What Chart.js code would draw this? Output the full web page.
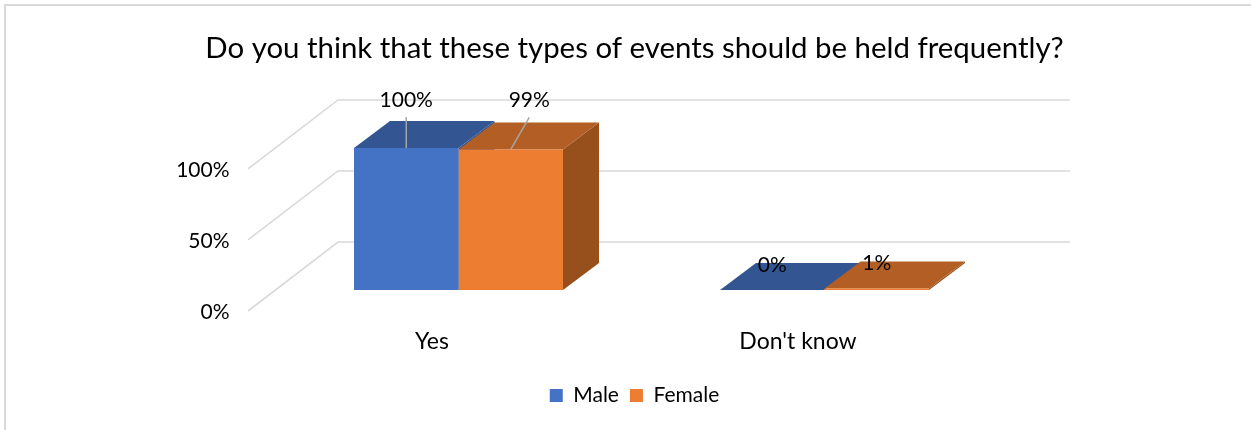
<!DOCTYPE html>
<html>
<head>
<meta charset="utf-8">
<style>
  html, body { margin: 0; padding: 0; background: #fff; }
  #frame { position: absolute; left: 4px; top: 4px; width: 1247px; height: 426px;
           border-left: 2px solid #d9d9d9; border-top: 2px solid #d9d9d9; box-sizing: border-box; }
  canvas { position: absolute; left: 0; top: 0; }
</style>
<script src="https://cdn.jsdelivr.net/npm/chart.js@4"></script>
</head>
<body>
<div id="frame"></div>
<canvas id="chart" width="1251" height="430"></canvas>
<script>
const titleText = "Do you think that these types of events should be held frequently?";
const categories = ["Yes", "Don't know"];
const maleValues = [100, 0];
const femaleValues = [99, 1];
const yTicks = [0, 50, 100];

const FONT = "Lato, 'Open Sans', sans-serif";
const INK = "#000000";
const WALL = "#d9d9d9";

// Oblique projection used for the fake depth of the plot
const BAR_DEPTH = { dx: 36, dy: -27 };
const FLOOR_FRONT = { dx: -27.5, dy: 21 };
const FLOOR_BACK = { dx: 62.5, dy: -48 };

const faceColours = [
  { front: "#4472C4", top: "#335693", side: "#335693" },
  { front: "#ED7D31", top: "#B25E25", side: "#97501C" }
];

// Where each value label sits relative to its bar top, and whether it has a leader line
const labelPlacement = [
  [{ dx: 0, dy: -48, leader: true }, { dx: 0, dy: -25, leader: false }],
  [{ dx: 18.5, dy: -49, leader: true }, { dx: 0, dy: -25, leader: false }]
];

function polygon(ctx, pts, fill) {
  ctx.beginPath();
  pts.forEach((p, i) => i ? ctx.lineTo(p[0], p[1]) : ctx.moveTo(p[0], p[1]));
  ctx.closePath();
  ctx.fillStyle = fill;
  ctx.fill();
}

const depthPlugin = {
  id: "depth",
  beforeDatasetsDraw(chart) {
    const { ctx, chartArea: area, scales: { y } } = chart;
    ctx.save();
    // Side wall and back wall gridlines, one per axis tick
    ctx.strokeStyle = WALL;
    ctx.lineWidth = 1.6;
    y.ticks.forEach(t => {
      const py = y.getPixelForValue(t.value);
      ctx.beginPath();
      ctx.moveTo(area.left + FLOOR_FRONT.dx, py + FLOOR_FRONT.dy);
      ctx.lineTo(area.left + FLOOR_BACK.dx, py + FLOOR_BACK.dy);
      ctx.lineTo(area.right + FLOOR_BACK.dx, py + FLOOR_BACK.dy);
      ctx.stroke();
    });
    // Extruded top and right faces of every bar
    chart.data.datasets.forEach((ds, di) => {
      const colours = faceColours[di];
      chart.getDatasetMeta(di).data.forEach(bar => {
        const l = bar.x - bar.width / 2, r = bar.x + bar.width / 2;
        const t = bar.y, b = bar.base;
        const { dx, dy } = BAR_DEPTH;
        polygon(ctx, [[r, t], [r + dx, t + dy], [r + dx, b + dy], [r, b]], colours.side);
        polygon(ctx, [[l, t], [l + dx, t + dy], [r + dx, t + dy], [r, t]], colours.top);
      });
    });
    ctx.restore();
  },
  afterDatasetsDraw(chart) {
    const { ctx } = chart;
    ctx.save();
    ctx.font = "21px " + FONT;
    ctx.textAlign = "center";
    ctx.textBaseline = "middle";
    chart.data.datasets.forEach((ds, di) => {
      chart.getDatasetMeta(di).data.forEach((bar, i) => {
        const place = labelPlacement[di][i];
        const lx = bar.x + place.dx, ly = bar.y + place.dy;
        if (place.leader) {
          ctx.strokeStyle = "#a6a6a6";
          ctx.lineWidth = 1.5;
          ctx.beginPath();
          ctx.moveTo(bar.x, bar.y);
          ctx.lineTo(lx, ly + 17);
          ctx.stroke();
        }
        ctx.fillStyle = INK;
        ctx.fillText(ds.data[i] + "%", lx, ly);
      });
    });
    ctx.restore();
  }
};

new Chart(document.getElementById("chart"), {
  type: "bar",
  data: {
    labels: categories,
    datasets: [
      { label: "Male", data: maleValues, backgroundColor: faceColours[0].front, borderWidth: 0 },
      { label: "Female", data: femaleValues, backgroundColor: faceColours[1].front, borderWidth: 0 }
    ]
  },
  options: {
    responsive: false,
    animation: false,
    devicePixelRatio: 1,
    layout: { padding: { left: 18, right: 0, top: 0, bottom: 14 } },
    datasets: { bar: { barPercentage: 1, categoryPercentage: 0.571 } },
    plugins: {
      tooltip: { enabled: false },
      title: {
        display: true,
        text: titleText,
        color: INK,
        font: { family: FONT, size: 29.4, weight: "normal" },
        padding: { top: 31, bottom: 81.7 }
      },
      legend: {
        position: "bottom",
        labels: {
          boxWidth: 13, boxHeight: 13, padding: 11,
          color: INK,
          font: { family: FONT, size: 21 }
        }
      }
    },
    scales: {
      x: {
        grid: { display: false },
        border: { display: false },
        ticks: { color: INK, font: { family: FONT, size: 23 }, padding: 30, labelOffset: -26.5, maxRotation: 0 },
        afterFit(s) { s.height = 84; }
      },
      y: {
        min: 0,
        max: 100,
        afterBuildTicks(s) { s.ticks = yTicks.map(v => ({ value: v })); },
        grid: { display: false },
        border: { display: false },
        ticks: { color: INK, font: { family: FONT, size: 21 }, padding: 38, labelOffset: 22, callback: v => v + "%" },
        afterFit(s) { s.width = 257.5; }
      },
      // Empty axis on the right: reserves the room taken by the floor depth
      spacer: {
        type: "linear",
        position: "right",
        grid: { display: false },
        border: { display: false },
        ticks: { display: false },
        afterFit(s) { s.width = 243.5; }
      }
    }
  },
  plugins: [depthPlugin]
});
</script>
</body>
</html>
